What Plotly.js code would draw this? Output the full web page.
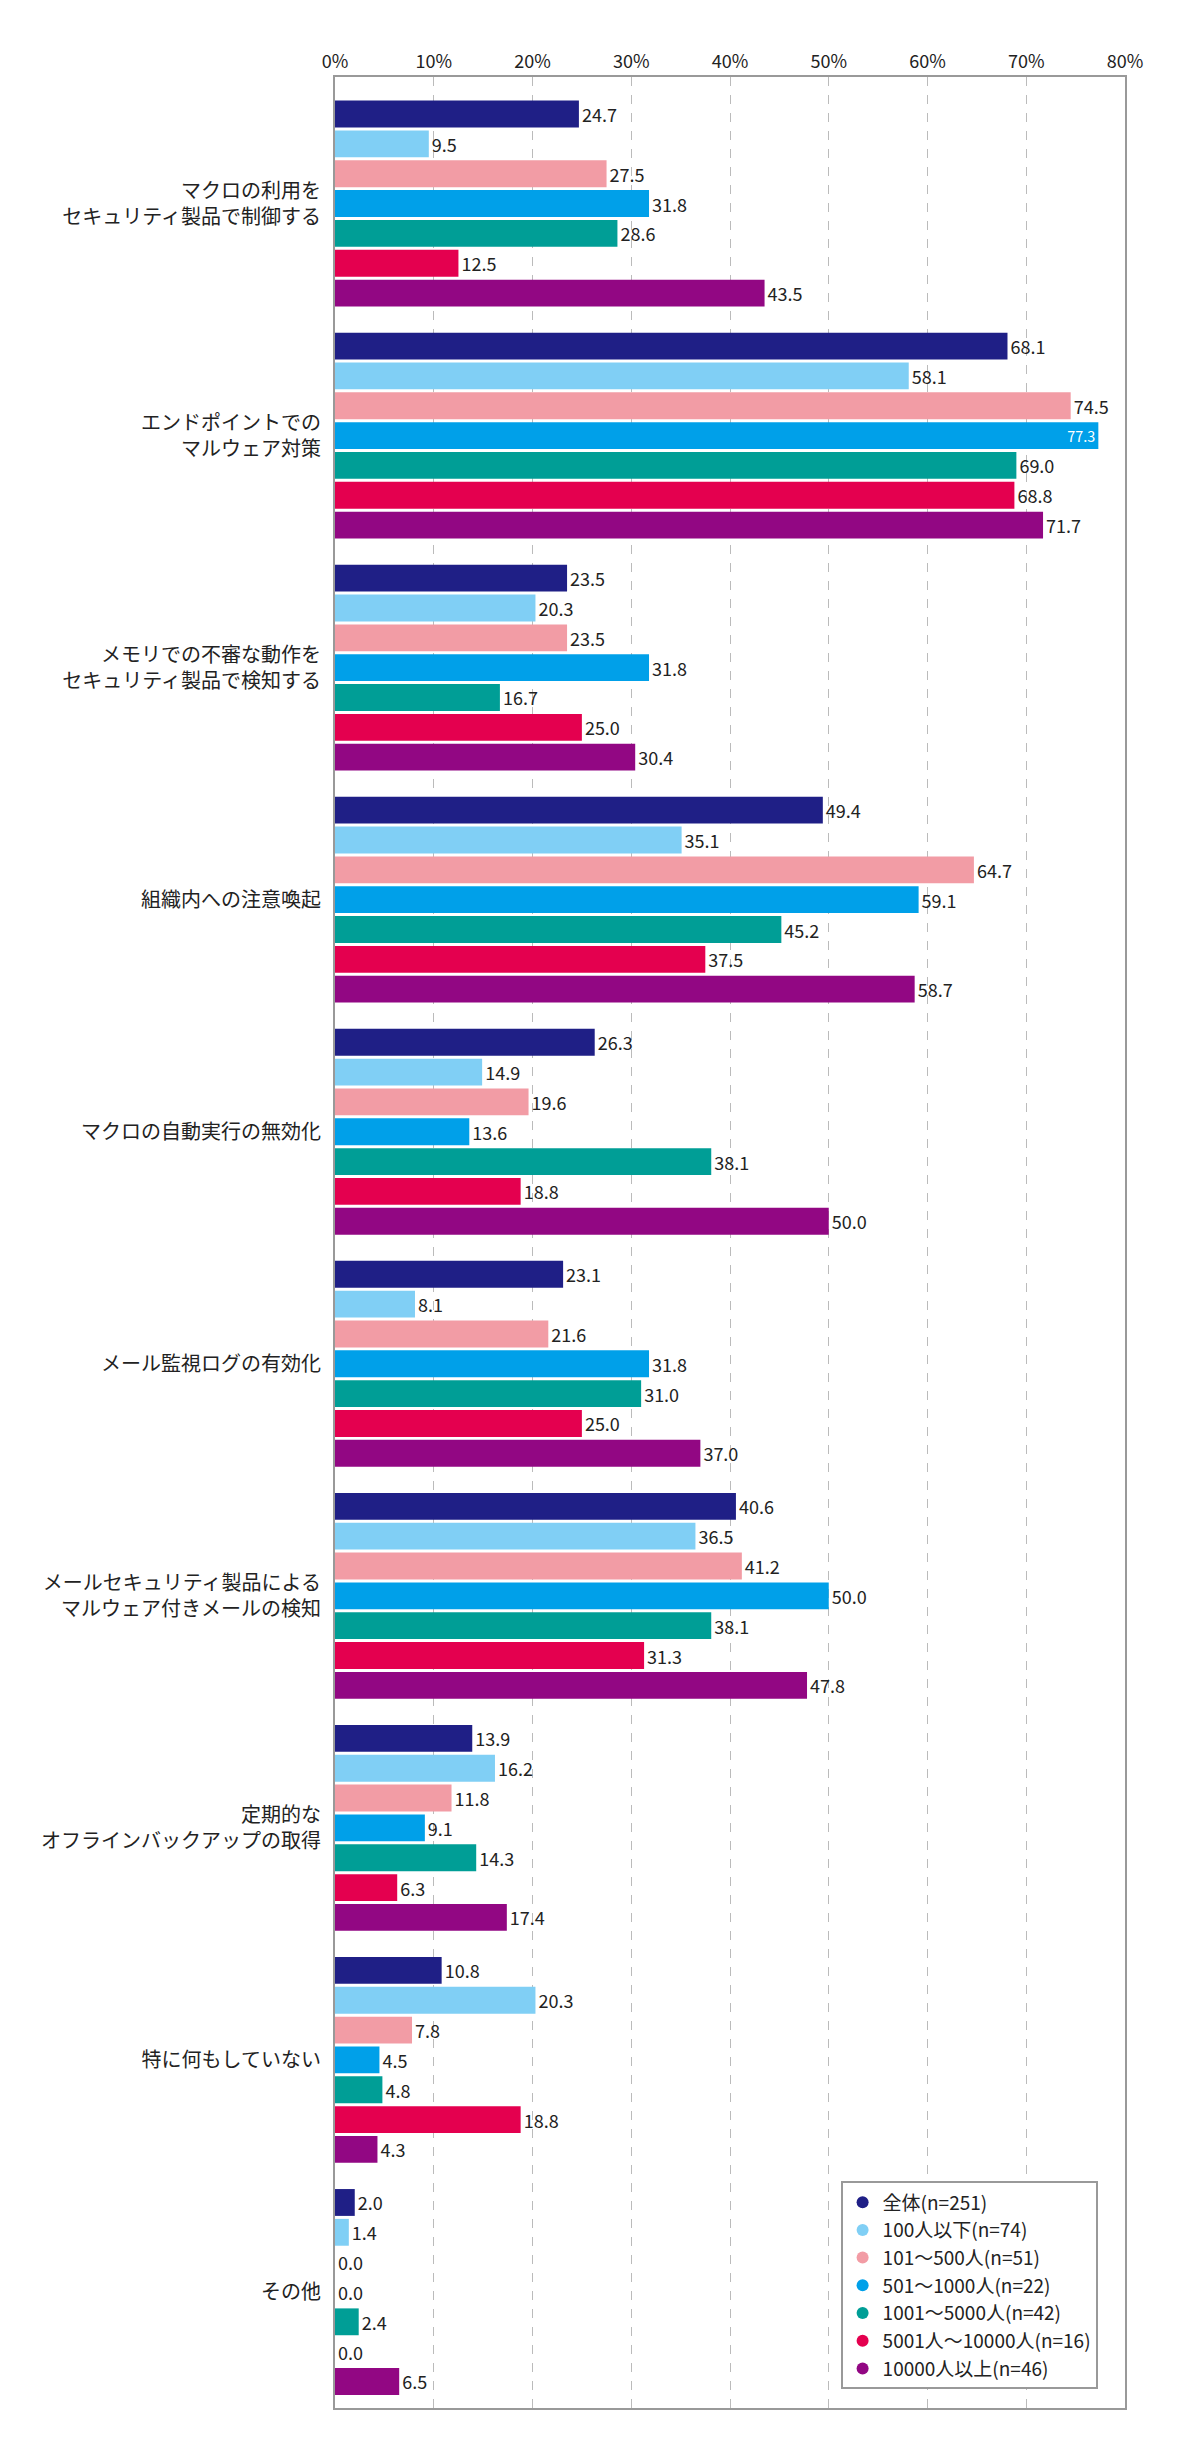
<!DOCTYPE html>
<html>
<head>
<meta charset="utf-8">
<script src="https://cdn.plot.ly/plotly-3.0.1.min.js"></script>
<style>body{margin:0;background:#fff;}</style>
</head>
<body>
<div id="chart" style="width:1200px;height:2441px;"></div>
<script>
const categories = [
  'マクロの利用を<br>セキュリティ製品で制御する',
  'エンドポイントでの<br>マルウェア対策',
  'メモリでの不審な動作を<br>セキュリティ製品で検知する',
  '組織内への注意喚起',
  'マクロの自動実行の無効化',
  'メール監視ログの有効化',
  'メールセキュリティ製品による<br>マルウェア付きメールの検知',
  '定期的な<br>オフラインバックアップの取得',
  '特に何もしていない',
  'その他'
];
const seriesNames = ['全体(n=251)', '100人以下(n=74)', '101～500人(n=51)', '501～1000人(n=22)',
  '1001～5000人(n=42)', '5001人～10000人(n=16)', '10000人以上(n=46)'];
const colors = ['#1f1f86', '#80cff5', '#f29ca5', '#00a0e9', '#009e96', '#e4004f', '#920783'];
const all = [24.7, 68.1, 23.5, 49.4, 26.3, 23.1, 40.6, 13.9, 10.8, 2.0];
const upTo100 = [9.5, 58.1, 20.3, 35.1, 14.9, 8.1, 36.5, 16.2, 20.3, 1.4];
const s101to500 = [27.5, 74.5, 23.5, 64.7, 19.6, 21.6, 41.2, 11.8, 7.8, 0.0];
const s501to1000 = [31.8, 77.3, 31.8, 59.1, 13.6, 31.8, 50.0, 9.1, 4.5, 0.0];
const s1001to5000 = [28.6, 69.0, 16.7, 45.2, 38.1, 31.0, 38.1, 14.3, 4.8, 2.4];
const s5001to10000 = [12.5, 68.8, 25.0, 37.5, 18.8, 25.0, 31.3, 6.3, 18.8, 0.0];
const over10000 = [43.5, 71.7, 30.4, 58.7, 50.0, 37.0, 47.8, 17.4, 4.3, 6.5];
const series = [all, upTo100, s101to500, s501to1000, s1001to5000, s5001to10000, over10000];
const tickVals = [0, 10, 20, 30, 40, 50, 60, 70, 80];
const tickText = ['0%', '10%', '20%', '30%', '40%', '50%', '60%', '70%', '80%'];

const data = [];
series.forEach((vals, i) => {
  data.push({
    type: 'bar', orientation: 'h', y: categories, x: vals,
    name: seriesNames[i], showlegend: false,
    marker: {color: colors[i]},
    text: vals.map(v => v.toFixed(1)),
    textposition: vals.map(v => v > 76 ? 'inside' : 'outside'),
    insidetextanchor: 'end',
    insidetextfont: {color: '#fff', size: 18},
    outsidetextfont: {color: '#222', size: 18},
    cliponaxis: false,
    hoverinfo: 'x+name'
  });
});
// legend entries drawn as circles
seriesNames.forEach((n, i) => {
  data.push({
    type: 'scatter', mode: 'markers', x: [null], y: [categories[0]],
    name: n, marker: {color: colors[i], size: 16, symbol: 'circle'},
    hoverinfo: 'skip'
  });
});

const layout = {
  width: 1200, height: 2441,
  margin: {l: 335, r: 75, t: 77, b: 33},
  font: {family: '"Noto Sans CJK JP", "Noto Sans", sans-serif', color: '#222'},
  barmode: 'group', bargap: 0.1, bargroupgap: 0.1,
  paper_bgcolor: '#fff', plot_bgcolor: '#fff',
  xaxis: {
    side: 'top', range: [0, 80], tickvals: tickVals, ticktext: tickText,
    showgrid: true, gridcolor: '#bbb', griddash: 'dash', gridwidth: 1,
    zeroline: false, showline: true, linecolor: '#999', linewidth: 2, mirror: true,
    ticks: '', tickfont: {size: 18}, fixedrange: true
  },
  yaxis: {
    autorange: 'reversed', showline: true, linecolor: '#999', linewidth: 2, mirror: true,
    ticks: '', tickfont: {size: 20}, ticklabelstandoff: 8, showgrid: false
  },
  legend: {
    x: 0.64, y: 0.008, xanchor: 'left', yanchor: 'bottom',
    bordercolor: '#999', borderwidth: 2, bgcolor: '#fff',
    font: {size: 19}, tracegroupgap: 0, itemsizing: 'constant'
  }
};

Plotly.newPlot('chart', data, layout, {displayModeBar: false});
</script>
</body>
</html>
